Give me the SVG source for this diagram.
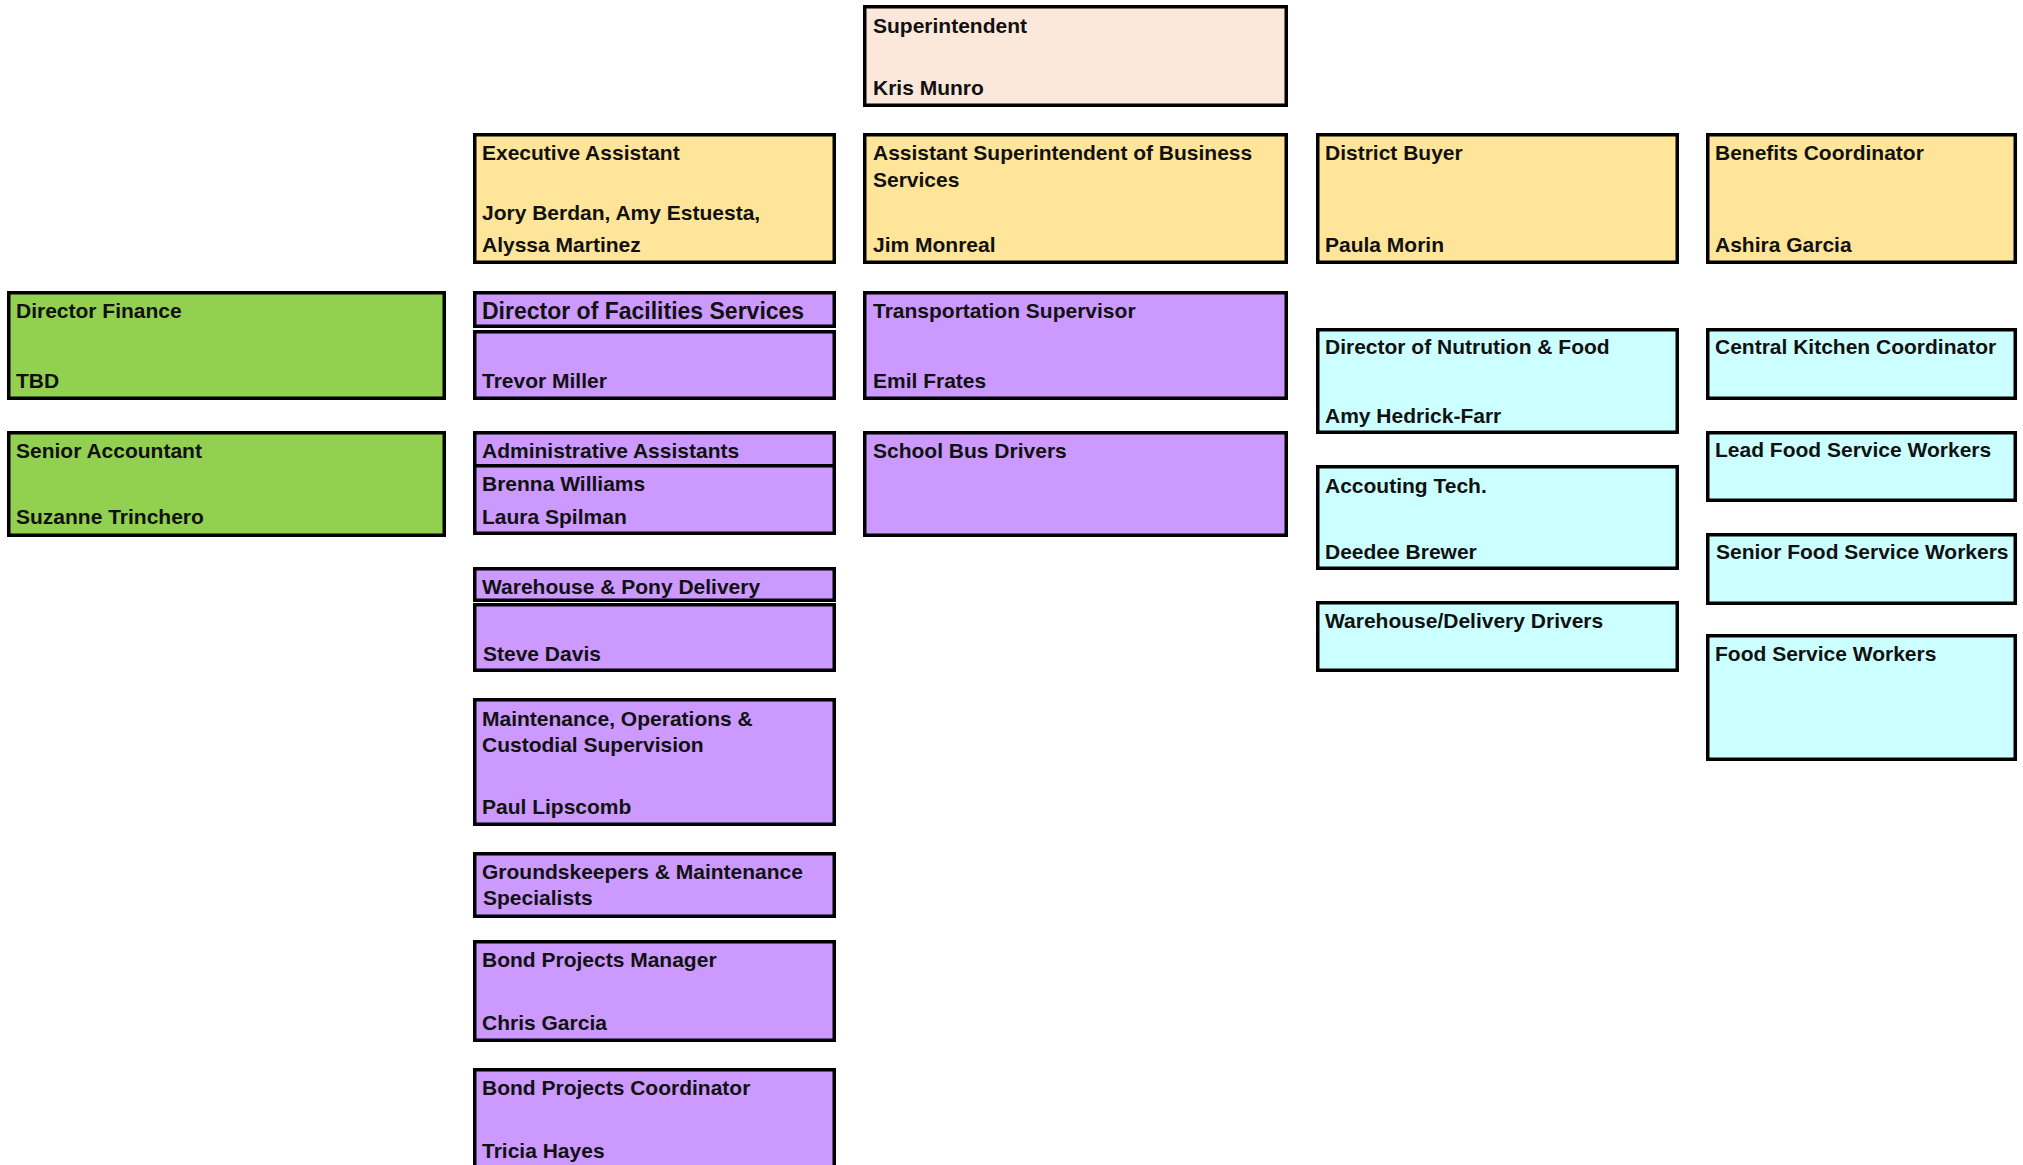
<svg xmlns="http://www.w3.org/2000/svg" width="2023" height="1165" viewBox="0 0 2023 1165">
<style>
rect{stroke:#000;stroke-width:3.5}
.pe{fill:#FCE8DA}.ye{fill:#FFE599}.gr{fill:#92D050}.pu{fill:#CC99FF}.cy{fill:#CCFFFF}
text{font-family:"Liberation Sans",Arial,sans-serif;font-weight:bold;font-size:21px;fill:#111}
.big{font-size:23px}
</style>
<rect x="0" y="0" width="2023" height="1165" style="fill:#fff;stroke:none"/>
<g id="connectors"/>
<g id="superintendent"><rect class="pe" x="864.75" y="6.75" width="421.5" height="98.5"/><text x="873" y="33">Superintendent</text><text x="873" y="95">Kris Munro</text></g>
<g id="executive-assistant"><rect class="ye" x="474.75" y="134.75" width="359.5" height="127.5"/><text x="482" y="160">Executive Assistant</text><text x="482" y="220">Jory Berdan, Amy Estuesta,</text><text x="482" y="252">Alyssa Martinez</text></g>
<g id="asst-superintendent"><rect class="ye" x="864.75" y="134.75" width="421.5" height="127.5"/><text x="873" y="160">Assistant Superintendent of Business</text><text x="873" y="187">Services</text><text x="873" y="252">Jim Monreal</text></g>
<g id="district-buyer"><rect class="ye" x="1317.75" y="134.75" width="359.5" height="127.5"/><text x="1325" y="160">District Buyer</text><text x="1325" y="252">Paula Morin</text></g>
<g id="benefits-coordinator"><rect class="ye" x="1707.75" y="134.75" width="307.5" height="127.5"/><text x="1715" y="160">Benefits Coordinator</text><text x="1715" y="252">Ashira Garcia</text></g>
<g id="director-finance"><rect class="gr" x="8.75" y="292.75" width="435.5" height="105.5"/><text x="16" y="318">Director Finance</text><text x="16" y="388">TBD</text></g>
<g id="director-facilities"><rect class="pu" x="474.75" y="292.75" width="359.5" height="33.5"/><rect class="pu" x="474.75" y="331.75" width="359.5" height="66.5"/><text class="big" x="482" y="319">Director of Facilities Services</text><text x="482" y="388">Trevor Miller</text></g>
<g id="transportation-supervisor"><rect class="pu" x="864.75" y="292.75" width="421.5" height="105.5"/><text x="873" y="318">Transportation Supervisor</text><text x="873" y="388">Emil Frates</text></g>
<g id="director-nutrition"><rect class="cy" x="1317.75" y="329.75" width="359.5" height="102.5"/><text x="1325" y="354">Director of Nutrution &amp; Food</text><text x="1325" y="423">Amy Hedrick-Farr</text></g>
<g id="central-kitchen"><rect class="cy" x="1707.75" y="329.75" width="307.5" height="68.5"/><text x="1715" y="354">Central Kitchen Coordinator</text></g>
<g id="senior-accountant"><rect class="gr" x="8.75" y="432.75" width="435.5" height="102.5"/><text x="16" y="458">Senior Accountant</text><text x="16" y="524">Suzanne Trinchero</text></g>
<g id="admin-assistants"><rect class="pu" x="474.75" y="432.75" width="359.5" height="33"/><rect class="pu" x="474.75" y="465.75" width="359.5" height="67.5"/><text x="482" y="458">Administrative Assistants</text><text x="482" y="491">Brenna Williams</text><text x="482" y="524">Laura Spilman</text></g>
<g id="school-bus-drivers"><rect class="pu" x="864.75" y="432.75" width="421.5" height="102.5"/><text x="873" y="458">School Bus Drivers</text></g>
<g id="lead-food"><rect class="cy" x="1707.75" y="432.75" width="307.5" height="67.5"/><text x="1715" y="457">Lead Food Service Workers</text></g>
<g id="accounting-tech"><rect class="cy" x="1317.75" y="466.75" width="359.5" height="101.5"/><text x="1325" y="493">Accouting Tech.</text><text x="1325" y="559">Deedee Brewer</text></g>
<g id="senior-food"><rect class="cy" x="1707.75" y="534.75" width="307.5" height="68.5"/><text x="1716" y="559">Senior Food Service Workers</text></g>
<g id="warehouse-pony"><rect class="pu" x="474.75" y="568.75" width="359.5" height="31.5"/><rect class="pu" x="474.75" y="604.75" width="359.5" height="65.5"/><text x="482" y="594">Warehouse &amp; Pony Delivery</text><text x="483" y="661">Steve Davis</text></g>
<g id="warehouse-delivery-drivers"><rect class="cy" x="1317.75" y="602.75" width="359.5" height="67.5"/><text x="1325" y="628">Warehouse/Delivery Drivers</text></g>
<g id="food-service-workers"><rect class="cy" x="1707.75" y="635.75" width="307.5" height="123.5"/><text x="1715" y="661">Food Service Workers</text></g>
<g id="maintenance"><rect class="pu" x="474.75" y="699.75" width="359.5" height="124.5"/><text x="482" y="726">Maintenance, Operations &amp;</text><text x="482" y="752">Custodial Supervision</text><text x="482" y="814">Paul Lipscomb</text></g>
<g id="groundskeepers"><rect class="pu" x="474.75" y="853.75" width="359.5" height="62.5"/><text x="482" y="879">Groundskeepers &amp; Maintenance</text><text x="483" y="905">Specialists</text></g>
<g id="bond-manager"><rect class="pu" x="474.75" y="941.75" width="359.5" height="98.5"/><text x="482" y="967">Bond Projects Manager</text><text x="482" y="1030">Chris Garcia</text></g>
<g id="bond-coordinator"><rect class="pu" x="474.75" y="1069.75" width="359.5" height="110"/><text x="482" y="1095">Bond Projects Coordinator</text><text x="482" y="1158">Tricia Hayes</text></g>
</svg>
